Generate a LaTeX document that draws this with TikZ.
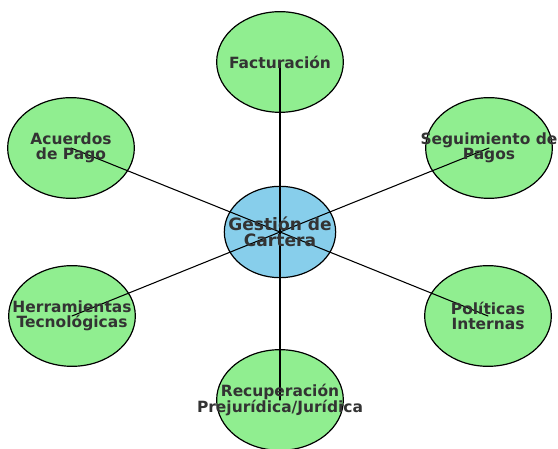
\documentclass[tikz,border=0pt]{standalone}
\usepackage{fontspec}
\setmainfont{DejaVu Sans}
\usetikzlibrary{shapes.geometric}
\definecolor{spokegreen}{HTML}{90EE90}
\definecolor{hubblue}{HTML}{87CEEB}
\definecolor{labelgray}{HTML}{333333}
\begin{document}
\begin{tikzpicture}[x=0.75pt,y=-0.75pt,line cap=round,line join=round,
    hub/.style={ellipse,draw=black,line width=0.9pt,fill=hubblue,inner sep=0pt,minimum width=83.5pt,minimum height=68.5pt},
    spoke/.style={ellipse,draw=black,line width=0.9pt,fill=spokegreen,inner sep=0pt,minimum width=95pt,minimum height=75.5pt},
    link/.style={line width=0.8pt,black},
    lbl/.style={align=center,inner sep=0pt,text=labelgray,font=\bfseries\fontsize{11.6}{11.4}\selectfont}]
  \useasboundingbox (0,0) rectangle (558,449);
  \clip (0,0) rectangle (558,449);
  % hub
  \node[hub] (hub) at (280,232) {};
  % spokes and links
  \foreach \n/\x/\y in {fact/280/62,acue/71/148,segu/489/148,herr/72/316,poli/488/316,recu/280/400}{
    \node[spoke] (\n) at (\x,\y) {};
    \draw[link] (hub.center) -- (\n.center);
  }
  % labels
  \node[lbl,font=\bfseries\fontsize{12.8}{12}\selectfont] (hub-t) at (hub) {Gestión de\\Cartera};
  \node[lbl] (fact-t) at (fact) {Facturación};
  \node[lbl] (acue-t) at (acue) {Acuerdos\\de Pago};
  \node[lbl] (segu-t) at (segu) {Seguimiento de\\Pagos};
  \node[lbl] (herr-t) at (herr) {Herramientas\\Tecnológicas};
  \node[lbl] (poli-t) at (poli) {Políticas\\Internas};
  \node[lbl] (recu-t) at (recu) {Recuperación\\Prejurídica/Jurídica};
\end{tikzpicture}
\end{document}
